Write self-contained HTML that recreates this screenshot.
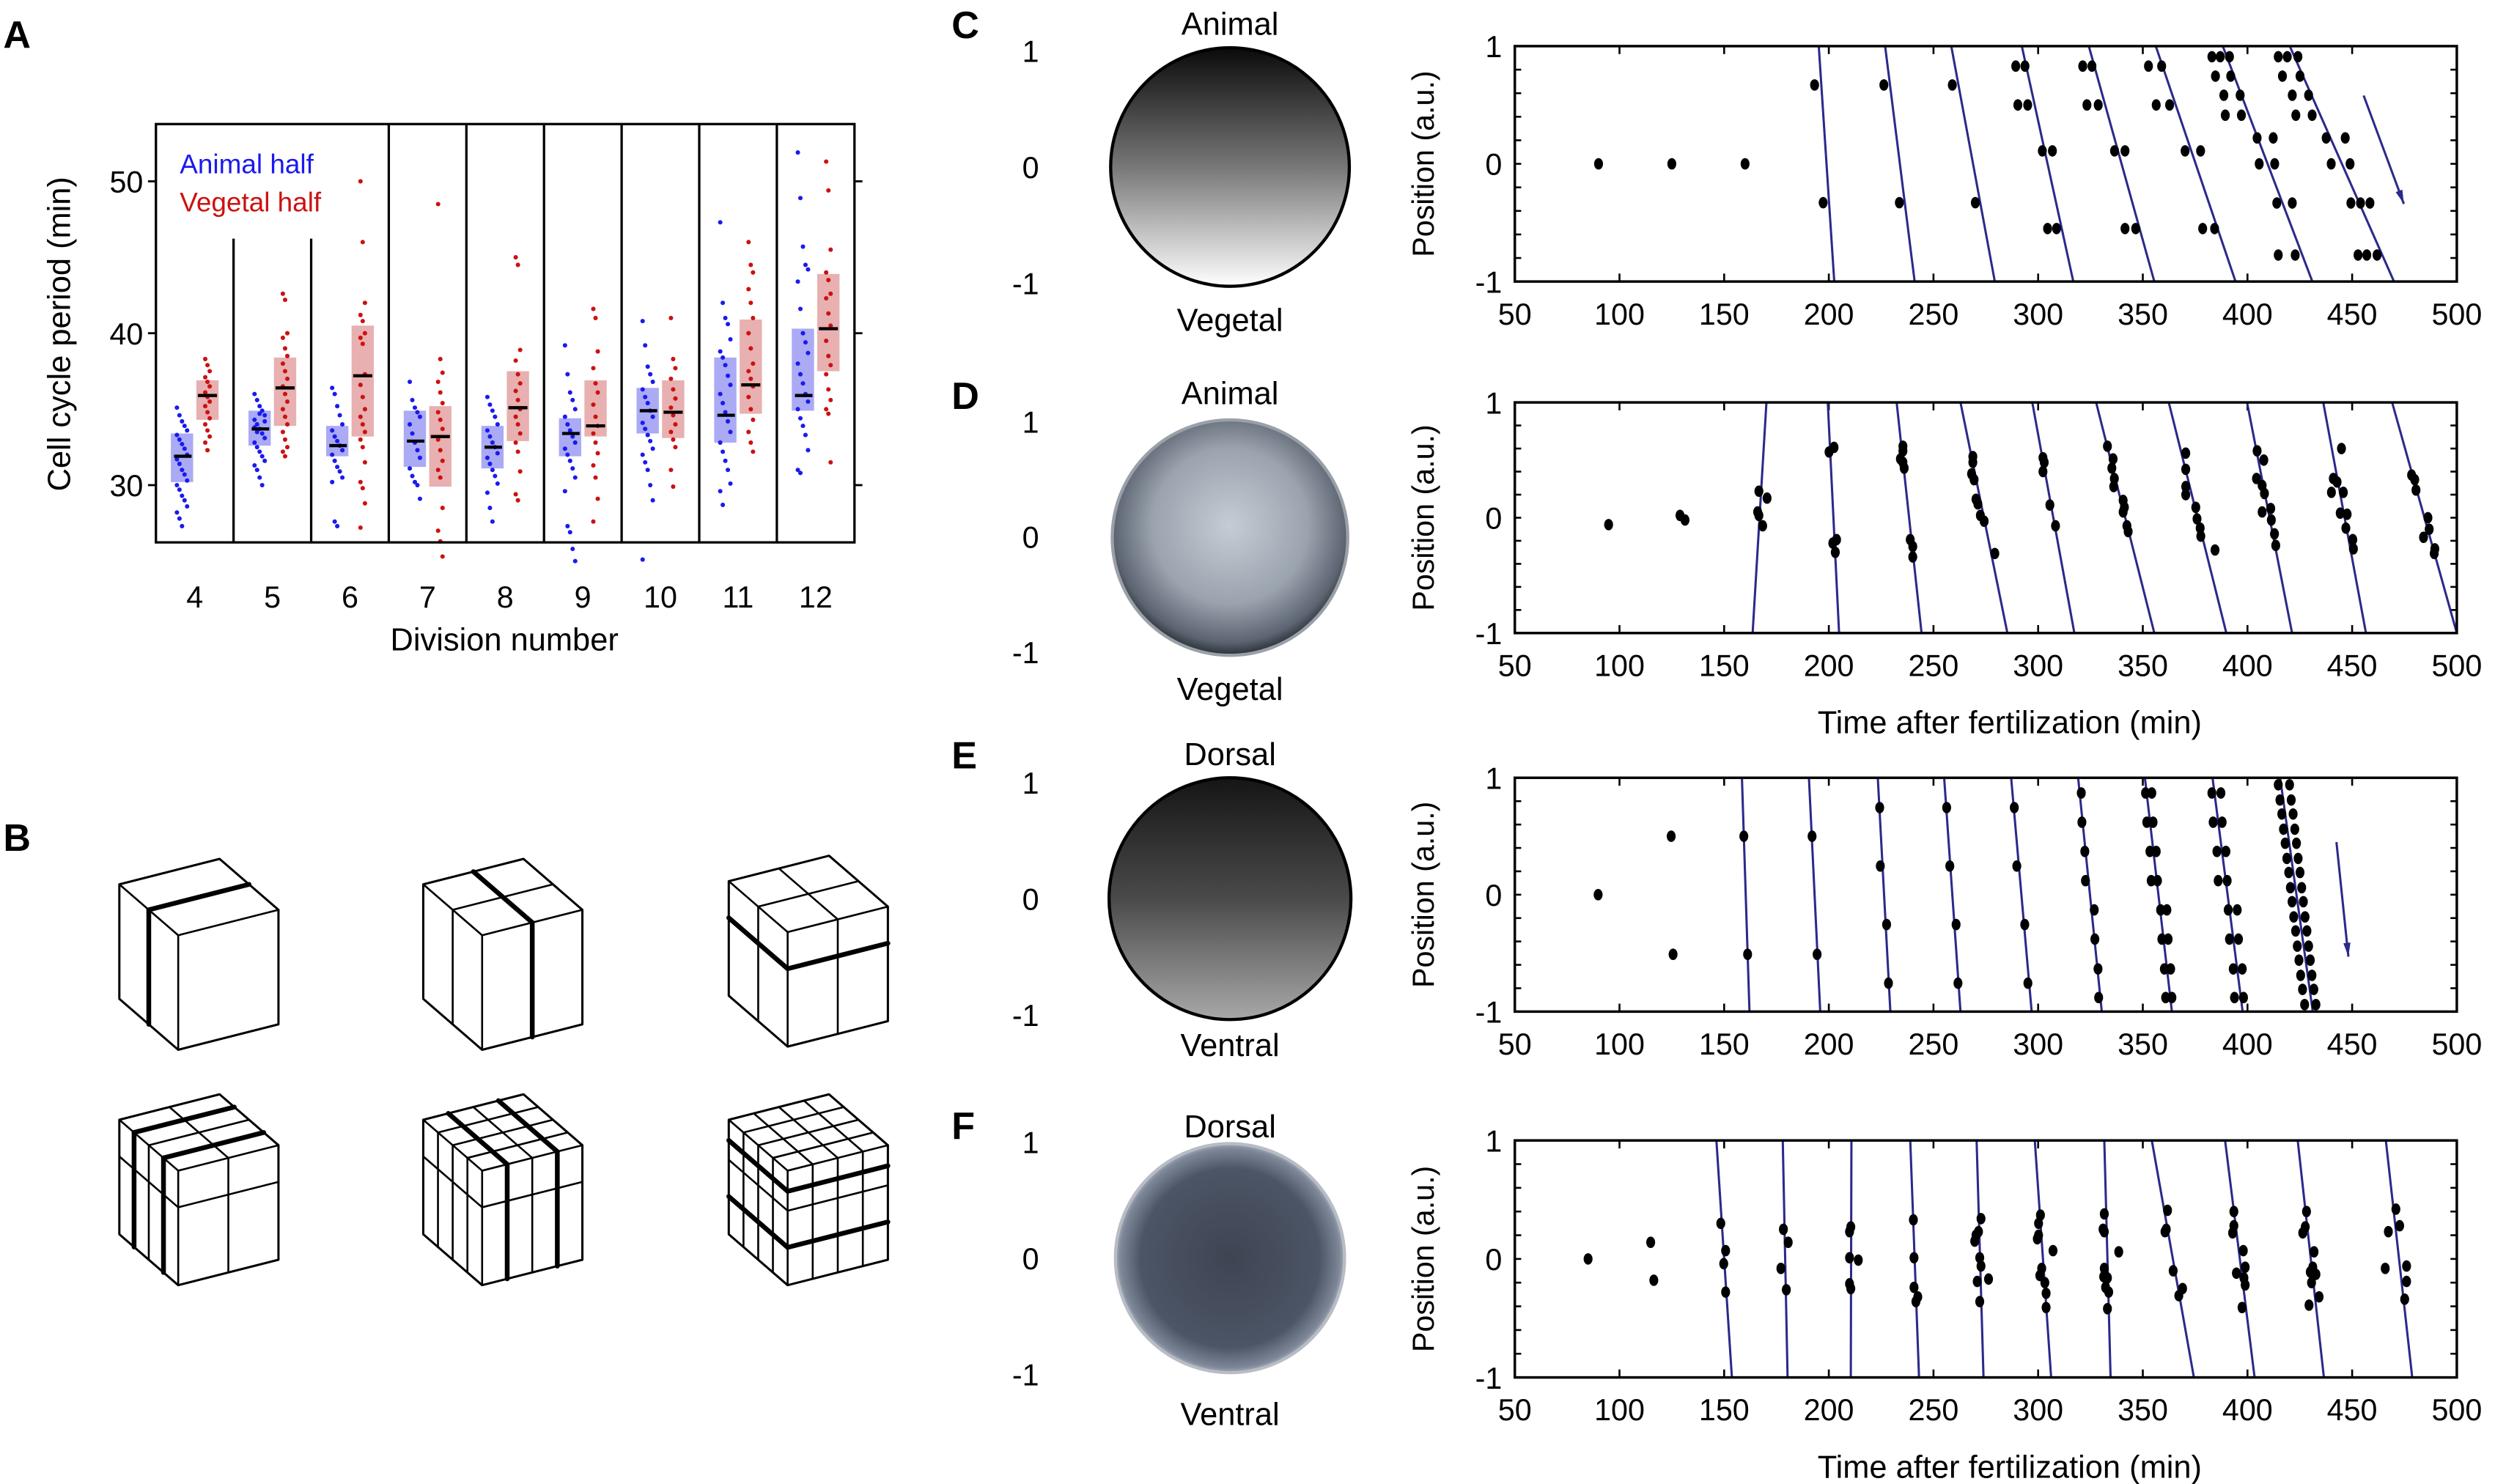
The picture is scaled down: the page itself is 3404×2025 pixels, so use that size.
<!DOCTYPE html>
<html><head><meta charset="utf-8"><style>
html,body{margin:0;padding:0;background:#fff}
svg{display:block}
text{font-family:"Liberation Sans",Arial,sans-serif}
</style></head><body>
<svg id="fig" xmlns="http://www.w3.org/2000/svg" width="3404" height="2025" viewBox="0 0 1568 933" preserveAspectRatio="none">
<defs>
<linearGradient id="gC" x1="0" y1="0" x2="0" y2="1"><stop offset="0" stop-color="#0a0a0a"/><stop offset="0.5" stop-color="#777"/><stop offset="1" stop-color="#fff"/></linearGradient>
<linearGradient id="gE" x1="0" y1="0" x2="0" y2="1"><stop offset="0" stop-color="#151515"/><stop offset="0.5" stop-color="#4a4a4a"/><stop offset="1" stop-color="#a8a8a8"/></linearGradient>
<radialGradient id="gD" cx="0.5" cy="0.45" r="0.55"><stop offset="0" stop-color="#c5ccd4"/><stop offset="0.6" stop-color="#9aa3ae"/><stop offset="0.9" stop-color="#5b6470"/><stop offset="1" stop-color="#2a3038"/></radialGradient>
<radialGradient id="gF" cx="0.5" cy="0.5" r="0.52"><stop offset="0" stop-color="#3e4452"/><stop offset="0.75" stop-color="#4c5566"/><stop offset="0.92" stop-color="#7d8798"/><stop offset="1" stop-color="#c8ccd4"/></radialGradient>
</defs>
<g id="panelA"></g>
<g id="panelB"></g>
<g id="panelR"></g>
</svg>
<script>
const NS="http://www.w3.org/2000/svg";
function el(p,tag,at,txt){const e=document.createElementNS(NS,tag);for(const k in at)e.setAttribute(k,at[k]);if(txt!==undefined)e.textContent=txt;p.appendChild(e);return e;}

/* ---------- Panel A data ---------- */
const divisions=[4,5,6,7,8,9,10,11,12];
const yTicksA=[30,40,50];
const animalMedian=[31.9,33.7,32.6,32.9,32.5,33.4,34.9,34.6,35.9];
const animalLow=[30.2,32.6,31.9,31.2,31.1,31.9,33.4,32.8,34.9];
const animalHigh=[33.4,34.9,33.9,34.9,33.9,34.4,36.4,38.4,40.3];
const vegetalMedian=[35.9,36.4,37.2,33.2,35.1,33.9,34.8,36.6,40.3];
const vegetalLow=[34.3,33.9,33.2,29.9,32.9,33.2,33.1,34.7,37.5];
const vegetalHigh=[36.9,38.4,40.5,35.2,37.5,36.9,36.9,40.9,43.9];
const animalDots=[
[35.1,34.6,34.2,33.9,33.6,33.3,33,32.7,32.4,32,31.7,31.4,31,30.7,30.3,30,29.7,29.3,29,28.6,28.2,27.8,27.3],
[36,35.6,35.2,34.9,34.6,34.3,34,33.7,33.4,33.1,32.8,32.5,32.2,31.9,31.6,31.3,31,30.5,30,34.2,33.8,33.5,34.7],
[36.4,36,35.2,34.6,34,33.6,33.2,32.9,32.6,32.3,32,31.6,31.2,30.9,30.5,30.2,27.6,27.3],
[36.8,35.6,35.1,34.8,34.5,34,33.4,32.8,32.3,31.8,31.1,30.6,30.2,30,29.1],
[35.8,35.3,34.9,34.5,34,33.6,33.2,32.8,32.5,32.1,31.8,31.4,31,30.6,30.1,29.5,28.5,27.6],
[39.2,37.3,36.1,35.6,35,34.5,34,33.6,33.2,32.8,32.4,32,31.6,31.1,30.5,29.6,27.3,26.9,25.8,25],
[40.8,39.2,37.8,37.3,36.8,36.3,35.8,35.4,34.9,34.5,34.1,33.7,33.3,32.9,32.4,32,31.5,31,30,29,25.1],
[47.3,42,41,40.6,39.6,38.8,38.4,37.9,37.2,36.6,36,35.4,34.8,34.2,33.5,32.8,32.2,31.6,31,30.1,29.6,28.7],
[51.9,48.9,45.7,44.5,44.2,43.4,41.6,40,39.4,38.7,38,37.3,36.7,36,35.5,35,34.4,33.9,33.3,32.3,31,30.8]];
const vegetalDots=[
[38.3,37.9,37.5,37.1,36.8,36.5,36.1,35.8,35.5,35.2,34.8,34.4,34,33.6,33.2,32.8,32.3],
[42.6,42.2,40,39.7,39,38.5,38,37.5,37,36.5,36,35.5,35,34.5,34,33.5,33,32.5,32.2,31.9],
[50,46,42,41.2,40.8,40,39.7,39.3,37.3,36.6,35.8,35,34.5,34,33.5,33,32.5,31.5,30.2,29.8,28.8,27.2],
[48.5,38.3,37.4,36.8,36.1,35.4,34.8,34.3,33.7,33,32.3,31.6,31,30.5,28.5,27,26.3,25.3],
[45,44.5,38.9,38.2,37.3,36.7,36.2,35.6,35,34.5,34,33.4,32.8,32.2,30.9,29.4,29],
[41.6,41,38.8,37.7,36.7,36.1,35.3,34.5,33.9,33.4,32.8,32.1,31.3,30.5,29.1,27.6],
[41,38.3,37.7,37,36.3,35.7,35.1,34.6,34,33.5,33,32.5,31,29.9],
[46,44.5,44,42.9,42,41,40,39,38,37.5,37,36.5,35.8,35,34.3,33.5,32.8,32.2],
[51.3,49.4,45.5,44,43.5,42.6,42.3,41.3,40.5,39.5,38.5,37.9,37.3,36.3,35.6,35,34.7,31.5]];

/* ---------- Panels C-F data (time min, position a.u.) ---------- */
const xTicksR=[50,100,150,200,250,300,350,400,450,500];
const yTicksR=[-1,0,1];
const cDotT=[90,125,160,193.2,226.3,259,197.3,233.7,270,289.3,293.7,321.3,325.7,352.7,359,290.3,295,323.3,328.7,356.4,362.8,302,306.8,336.5,341.5,370.2,377.6,304.5,308.8,341.5,346.6,378.6,384.3,383,387,391.4,414.7,419,424.1,384.7,392,416.7,425.1,388.7,396.5,421.4,429.2,389.4,397.1,423.1,430.9,404.6,412.3,437.6,446.7,405.6,413,440,449,414,421.4,449.4,454,458.5,414.7,422.8,452.8,457,461.9];
const cDotP=[0,0,0,0.67,0.67,0.67,-0.33,-0.33,-0.33,0.83,0.83,0.83,0.83,0.83,0.83,0.5,0.5,0.5,0.5,0.5,0.5,0.11,0.11,0.11,0.11,0.11,0.11,-0.55,-0.55,-0.55,-0.55,-0.55,-0.55,0.91,0.91,0.91,0.91,0.91,0.91,0.745,0.745,0.745,0.745,0.583,0.583,0.583,0.583,0.413,0.413,0.413,0.413,0.22,0.22,0.22,0.22,0,0,0,0,-0.333,-0.333,-0.333,-0.333,-0.333,-0.775,-0.775,-0.775,-0.775,-0.775];
const cLineTop=[195.2,226.9,258.5,292.2,324.2,356.2,388.2,420.2];
const cLineBot=[202.6,241,279.3,316.8,355.5,394.3,431,470];
const cArrow=[455.5,0.58,474.7,-0.34];

const dDotT=[94.8,128.9,131.3,166.6,170.5,166,166.6,168.4,200.1,202.5,201.9,203.7,203.1,235.4,235.4,234.2,235.4,236,238.9,240.1,240.1,268.8,268.8,268.2,269.4,270.3,271.2,272.4,274.2,279.3,302.3,302.9,302.3,305.6,308.3,333.1,335.8,335.2,336.4,336.1,340.6,341.2,340.6,342.4,343,370.5,370.5,370.5,370.5,375.3,375.9,377.4,377.7,384.5,404.6,407.8,404.3,407,408.1,407,411.1,411.4,412.9,413.5,444.9,441,442.8,440.1,445.8,444.3,447.6,447,450.3,450.6,478.4,479.9,480.5,486.2,486.8,484.1,489.5,489.2];
const dDotP=[-0.06,0.02,-0.02,0.23,0.17,0.05,0.02,-0.07,0.57,0.61,-0.22,-0.19,-0.3,0.62,0.58,0.51,0.48,0.43,-0.19,-0.25,-0.34,0.53,0.48,0.38,0.33,0.16,0.12,0.02,-0.03,-0.31,0.52,0.48,0.4,0.11,-0.07,0.62,0.51,0.43,0.34,0.27,0.15,0.09,0.05,-0.07,-0.12,0.56,0.42,0.27,0.2,0.09,-0.01,-0.09,-0.16,-0.28,0.58,0.5,0.34,0.28,0.21,0.05,0.08,-0.02,-0.14,-0.24,0.6,0.34,0.31,0.22,0.22,0.04,0.03,-0.09,-0.19,-0.27,0.37,0.33,0.24,0,-0.1,-0.17,-0.27,-0.31];
const dLineTop=[170.2,199.5,232.4,262.9,297.2,327.7,362.4,399.8,436.2,469.1];
const dLineBot=[163.6,204.9,244.3,285.3,317.3,355.5,389.9,421.3,456.6,500];

const eDotT=[89.8,124.7,125.6,159.4,161.2,192,194.4,224.3,224.6,227.6,228.5,256.3,257.8,260.8,261.7,288.6,289.8,293.6,295.1,
320.6,320.9,322.3,322.6,326.8,327.1,328.6,328.9,
351.3,351.9,353.4,354,358.5,359.1,360.3,360.9,354.3,354.9,356.4,357,361.5,362.1,363.3,363.9,
383,383.6,385.4,386,390.8,391.4,393.2,393.8,387.3,387.9,389.7,390.3,395.1,395.7,397.5,398.1,
414.7,415.5,416.4,417.2,418,418.8,419.7,420.5,421.3,422.1,423,423.8,424.6,425.4,426.3,427.3,
420.1,420.9,421.8,422.6,423.4,424.2,425.1,425.9,426.7,427.5,428.4,429.2,430,430.8,431.7,432.7];
const eDotP=[0,0.5,-0.51,0.5,-0.51,0.5,-0.51,0.745,0.245,-0.255,-0.757,0.745,0.245,-0.255,-0.757,0.745,0.245,-0.255,-0.757,
0.87,0.62,0.37,0.12,-0.13,-0.38,-0.635,-0.88,
0.87,0.62,0.37,0.12,-0.13,-0.38,-0.635,-0.88,0.87,0.62,0.37,0.12,-0.13,-0.38,-0.635,-0.88,
0.87,0.62,0.37,0.12,-0.13,-0.38,-0.635,-0.88,0.87,0.62,0.37,0.12,-0.13,-0.38,-0.635,-0.88,
0.94,0.81,0.69,0.56,0.44,0.31,0.19,0.06,-0.06,-0.19,-0.31,-0.44,-0.56,-0.69,-0.81,-0.94,
0.94,0.81,0.69,0.56,0.44,0.31,0.19,0.06,-0.06,-0.19,-0.31,-0.44,-0.56,-0.69,-0.81,-0.94];
const eLineTop=[158.5,190.5,223.4,255.1,287.1,319.1,351,383.3,415.6];
const eLineBot=[162.1,195.9,229.4,262.9,296.9,330.4,363.9,397.7,431.2];
const eArrow=[442.5,0.45,448.2,-0.53];

const fDotT=[85,114.9,116.4,148.4,150.7,149.8,150.7,178.3,180.6,177.1,179.7,210.5,209.9,209.9,214.1,209.9,210.5,240.4,240.7,240.7,242.5,241.6,272.7,271.5,270.3,269.7,272.1,272.7,270.9,276.3,272.1,301.1,300.2,300.2,299.6,307.1,301.7,300.8,303.2,303.8,303.8,331.6,331,331.6,338.5,331.6,331.3,333.1,332.2,333.7,333.1,361.8,361.2,360.6,364.5,369,367.2,393.5,393.5,392.9,398,398.9,394.7,398.3,398.9,397.4,428.2,427.6,426.4,431.8,431.2,430,432.7,430.6,434.2,429.4,470.9,472.7,467.3,465.8,476,476,475.1];
const fDotP=[0,0.14,-0.18,0.3,0.07,-0.04,-0.28,0.25,0.14,-0.08,-0.26,0.27,0.23,0.01,-0.01,-0.21,-0.25,0.33,0.01,-0.24,-0.32,-0.36,0.34,0.23,0.2,0.15,0.01,-0.06,-0.19,-0.17,-0.36,0.37,0.3,0.2,0.17,0.07,-0.08,-0.14,-0.2,-0.29,-0.41,0.38,0.25,0.23,0.06,-0.08,-0.15,-0.16,-0.24,-0.28,-0.42,0.41,0.25,0.23,-0.1,-0.25,-0.31,0.4,0.28,0.22,0.07,-0.07,-0.12,-0.16,-0.22,-0.41,0.4,0.27,0.22,0.06,-0.07,-0.11,-0.13,-0.2,-0.32,-0.39,0.42,0.28,0.23,-0.08,-0.06,-0.19,-0.34];
const fLineTop=[146.3,178,210.8,238.9,270.6,298.4,331.6,354.3,389.3,424,466.1];
const fLineBot=[153.7,180.3,210.5,243.1,273.9,306.2,334.6,374.4,403.4,436.5,478.7];

/* ---------- Panel A drawing ---------- */
(function(){
const g=document.getElementById('panelA');
const L=98,R=537,T=78,B=341;
const yA=v=>305-(v-30)*9.55;
const cw=(R-L)/divisions.length;
const cx=i=>L+cw*(i+0.5);
const lbl=el(g,'text',{x:2,y:30,'font-size':24,'font-weight':'bold'},'A');

for(let i=0;i<divisions.length;i++){
  const c=cx(i);
  const ab=el(g,'rect',{x:c-15,y:yA(animalHigh[i]),width:14,height:yA(animalLow[i])-yA(animalHigh[i]),fill:'#aaaaf5'});
  
  const vb=el(g,'rect',{x:c+1,y:yA(vegetalHigh[i]),width:14,height:yA(vegetalLow[i])-yA(vegetalHigh[i]),fill:'#e8b0b0'});
  
  animalDots[i].forEach((v,j)=>{const d=el(g,'circle',{cx:c-8+((j%5)-2)*1.6,cy:yA(v),r:1.4,fill:'#1a1aee'});
    });
  vegetalDots[i].forEach((v,j)=>{const d=el(g,'circle',{cx:c+8+((j%3)-1)*1.4,cy:yA(v),r:1.4,fill:'#cc1111'});
    });
  const am=el(g,'line',{x1:c-13,x2:c-2,y1:yA(animalMedian[i]),y2:yA(animalMedian[i]),stroke:'#000','stroke-width':2});
  
  const vm=el(g,'line',{x1:c+2,x2:c+14,y1:yA(vegetalMedian[i]),y2:yA(vegetalMedian[i]),stroke:'#000','stroke-width':2});
  
  const t=el(g,'text',{x:c,y:382,'font-size':19,'text-anchor':'middle'},String(divisions[i]));
  
  if(i>0){const top=(i<=2)?150:T;
    const s=el(g,'line',{x1:L+cw*i,x2:L+cw*i,y1:top,y2:B,stroke:'#000','stroke-width':1.5});
    }
}
const fr=el(g,'rect',{x:L,y:T,width:R-L,height:B-T,fill:'none',stroke:'#000','stroke-width':1.5});

yTicksA.forEach(v=>{
  el(g,'line',{x1:L-5,x2:L,y1:yA(v),y2:yA(v),stroke:'#000','stroke-width':1.3});
  el(g,'line',{x1:R,x2:R+5,y1:yA(v),y2:yA(v),stroke:'#000','stroke-width':1.3});
  const t=el(g,'text',{x:L-8,y:yA(v)+7,'font-size':19,'text-anchor':'end'},String(v));
  
});
const lg1=el(g,'text',{x:113,y:109,'font-size':17,fill:'#1a1aee'},'Animal half');

const lg2=el(g,'text',{x:113,y:133,'font-size':17,fill:'#cc1111'},'Vegetal half');

const xt=el(g,'text',{x:317,y:409,'font-size':20,'text-anchor':'middle'},'Division number');

const yt=el(g,'text',{x:0,y:0,'font-size':20,'text-anchor':'middle',transform:'translate(44,210) rotate(-90)'},'Cell cycle period (min)');

})();

/* ---------- Panel B cubes (isometric) ---------- */
(function(){
const g=document.getElementById('panelB');
const lb=el(g,'text',{x:2,y:535,'font-size':24,'font-weight':'bold'},'B');

const LX=-37,LY=-32,BX=63,BY=-16,H=72;
function cube(fx,fy,as,bs,hs,ba,bb,bh,name){
  const c=el(g,'g',{});
  
  const ln=(a,b,cc,d,bold)=>el(c,'line',{x1:a,y1:b,x2:cc,y2:d,stroke:'#000','stroke-width':bold?3:1.2,'stroke-linecap':'round'});
  const pts=[[fx+LX,fy+LY],[fx+LX+BX,fy+LY+BY],[fx+BX,fy+BY],[fx+BX,fy+BY+H],[fx,fy+H],[fx+LX,fy+LY+H]];
  el(c,'polygon',{points:pts.map(p=>p.join(',')).join(' '),fill:'#fff',stroke:'none'});
  const order=(arr,bold)=>arr.map((f,k)=>[f,bold.includes(k)]).sort((p,q)=>p[1]-q[1]);
  order(as,ba).forEach(([f,b])=>{const x=fx+LX*f,y=fy+LY*f;ln(x,y,x,y+H,b);ln(x,y,x+BX,y+BY,b);});
  order(bs,bb).forEach(([f,b])=>{const x=fx+BX*f,y=fy+BY*f;ln(x,y,x,y+H,b);ln(x,y,x+LX,y+LY,b);});
  order(hs,bh).forEach(([f,b])=>{const y=fy+H*f;ln(fx,y,fx+LX,y+LY,b);ln(fx,y,fx+BX,y+BY,b);});
  el(c,'polygon',{points:pts.map(p=>p.join(',')).join(' '),fill:'none',stroke:'#000','stroke-width':1.4,'stroke-linejoin':'round'});
  ln(fx,fy,fx+LX,fy+LY,false);ln(fx,fy,fx+BX,fy+BY,false);ln(fx,fy,fx,fy+H,false);
}
cube(112,588,[0.5],[],[],[0],[],[],'cube-4-cell');
cube(303,588,[0.5],[0.5],[],[],[0],[],'cube-8-cell');
cube(495,586,[0.5],[0.5],[0.32],[],[],[0],'cube-16-cell');
cube(112,736,[0.25,0.5,0.75],[0.5],[0.32],[0,2],[],[],'cube-32-cell');
cube(303,736,[0.25,0.5,0.75],[0.25,0.5,0.75],[0.32],[],[0,2],[],'cube-64-cell');
cube(495,736,[0.25,0.5,0.75],[0.25,0.5,0.75],[0.18,0.35,0.67],[],[],[0,2],'cube-128-cell');
})();

/* ---------- Panels C-F ---------- */
(function(){
const g=document.getElementById('panelR');
const XL=952,XR=1544;
const xS=t=>XL+(t-50)*(XR-XL)/450;
function plot(key,top,bot,dT,dP,lT,lB,arrow,showTitle){
  const p=el(g,'g',{});
  
  const yS=v=>top+(1-v)*(bot-top)/2;
  for(let v=-0.8;v<0.81;v+=0.2){const y=yS(v);
    el(p,'line',{x1:XL,x2:XL+4,y1:y,y2:y,stroke:'#000','stroke-width':1.2});
    el(p,'line',{x1:XR-4,x2:XR,y1:y,y2:y,stroke:'#000','stroke-width':1.2});}
  xTicksR.forEach(t=>{const x=xS(t);
    el(p,'line',{x1:x,x2:x,y1:bot-5,y2:bot,stroke:'#000','stroke-width':1.2});
    el(p,'line',{x1:x,x2:x,y1:top,y2:top+5,stroke:'#000','stroke-width':1.2});
    const tl=el(p,'text',{x:x,y:bot+27,'font-size':19,'text-anchor':'middle'},String(t));
    });
  yTicksR.forEach(v=>{const tl=el(p,'text',{x:XL-8,y:yS(v)+7,'font-size':19,'text-anchor':'end'},String(v));
    });
  lT.forEach((t,i)=>{const l=el(p,'line',{x1:xS(t),y1:yS(1),x2:xS(lB[i]),y2:yS(-1),stroke:'#2a2a8a','stroke-width':1.4});
    });
  if(arrow){const a=el(p,'g',{});
    const x1=xS(arrow[0]),y1=yS(arrow[1]),x2=xS(arrow[2]),y2=yS(arrow[3]);
    el(a,'line',{x1,y1,x2,y2,stroke:'#2a2a8a','stroke-width':1.4});
    const ang=Math.atan2(y2-y1,x2-x1),s=9;
    el(a,'polygon',{points:`${x2},${y2} ${x2-s*Math.cos(ang-0.25)},${y2-s*Math.sin(ang-0.25)} ${x2-s*Math.cos(ang+0.25)},${y2-s*Math.sin(ang+0.25)}`,fill:'#2a2a8a'});}
  dT.forEach((t,i)=>{const d=el(p,'ellipse',{cx:xS(t),cy:yS(dP[i]),rx:2.8,ry:3.6,fill:'#000'});
    });
  const fr=el(p,'rect',{x:XL,y:top,width:XR-XL,height:bot-top,fill:'none',stroke:'#000','stroke-width':1.6});
  
  const yt=el(p,'text',{x:0,y:0,'font-size':19,'text-anchor':'middle',transform:`translate(901,${(top+bot)/2}) rotate(-90)`},'Position (a.u.)');
  
  if(showTitle){const xt=el(p,'text',{x:1263,y:bot+63,'font-size':20,'text-anchor':'middle'},'Time after fertilization (min)');
    }
}
plot('c',29,177,cDotT,cDotP,cLineTop,cLineBot,cArrow,false);
plot('d',253,398,dDotT,dDotP,dLineTop,dLineBot,null,true);
plot('e',489,636,eDotT,eDotP,eLineTop,eLineBot,eArrow,false);
plot('f',717,866,fDotT,fDotP,fLineTop,fLineBot,null,true);

function embryo(letter,ly,cy,r,fill,stroke,topLbl,botLbl,topY,botY,axTop,axBot){
  const e=el(g,'g',{});
  
  const L=el(e,'text',{x:598,y:ly,'font-size':24,'font-weight':'bold'},letter);
  
  const c=el(e,'circle',{cx:773,cy:cy,r:r,fill:fill,stroke:stroke,'stroke-width':2});
  
  const t1=el(e,'text',{x:773,y:topY,'font-size':20,'text-anchor':'middle'},topLbl);
  
  const t2=el(e,'text',{x:773,y:botY,'font-size':20,'text-anchor':'middle'},botLbl);
  
  [[1,axTop],[0,(axTop+axBot)/2],[-1,axBot]].forEach(([v,y])=>{
    const tl=el(e,'text',{x:653,y:y+7,'font-size':19,'text-anchor':'end'},String(v));
    });
}
embryo('C',24,105,75,'url(#gC)','#000','Animal','Vegetal',22,208,32,178);
embryo('D',257,338,74,'url(#gD)','#9aa0a8','Animal','Vegetal',254,440,265,410);
embryo('E',483,565,76,'url(#gE)','#000','Dorsal','Ventral',481,664,492,638);
embryo('F',716,791,72,'url(#gF)','#b8bcc4','Dorsal','Ventral',715,896,718,864);
})();
</script>
</body></html>
